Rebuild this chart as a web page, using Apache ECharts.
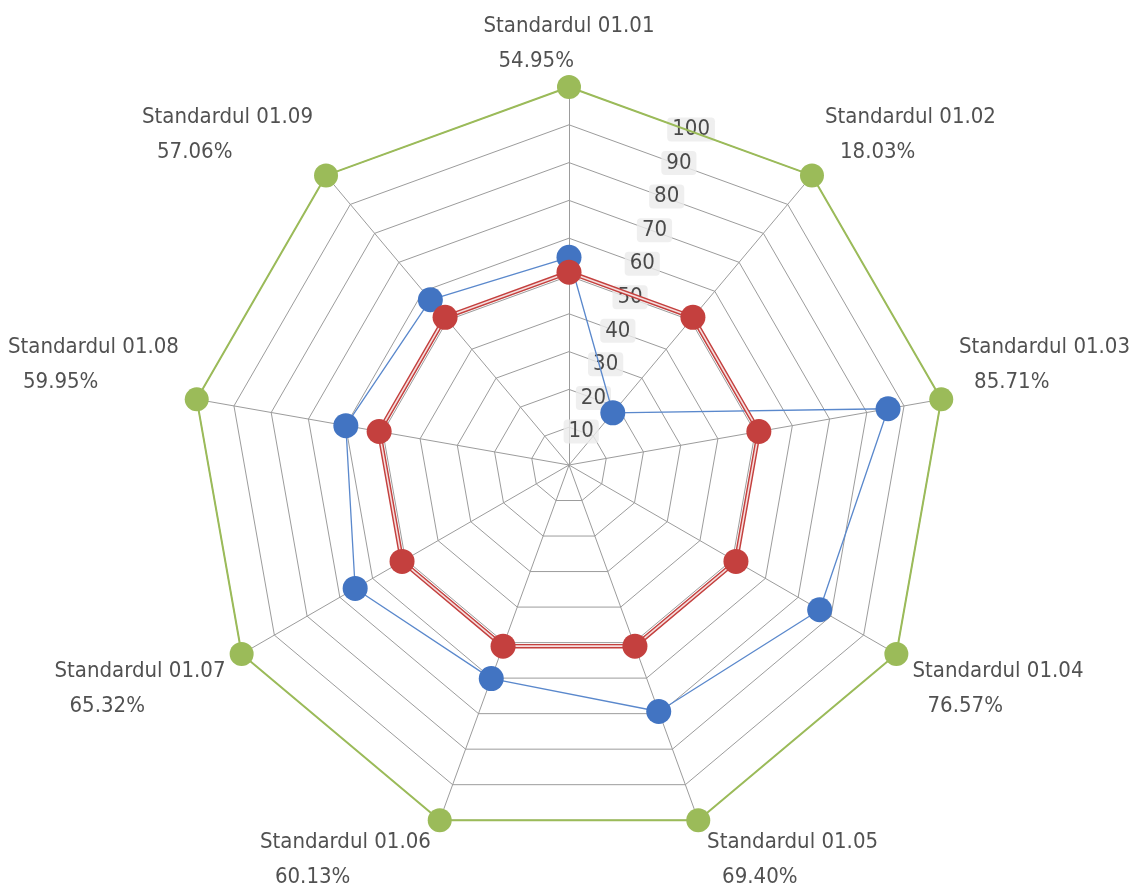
<!DOCTYPE html>
<html>
<head>
<meta charset="utf-8">
<script src="https://cdn.jsdelivr.net/npm/echarts@6/dist/echarts.min.js"></script>
<style>
  html, body { margin: 0; padding: 0; background: #ffffff; }
  #chart { width: 1131px; height: 890px; }
</style>
</head>
<body>
<div id="chart"></div>
<script>
// Standards being scored (clockwise from the top)
const categories = [
  'Standardul 01.01', 'Standardul 01.02', 'Standardul 01.03',
  'Standardul 01.04', 'Standardul 01.05', 'Standardul 01.06',
  'Standardul 01.07', 'Standardul 01.08', 'Standardul 01.09'
];
// Achieved score per standard (%)
const scoreValues = [54.95, 18.03, 85.71, 76.57, 69.40, 60.13, 65.32, 59.95, 57.06];
// Threshold level per standard (%)
const thresholdValues = [51, 51, 51, 51, 51, 51, 51, 51, 51];
// Maximum level per standard (%)
const maximumValues = [100, 100, 100, 100, 100, 100, 100, 100, 100];
// Radial scale tick labels
const tickValues = [10, 20, 30, 40, 50, 60, 70, 80, 90, 100];

const FONT = '"DejaVu Sans Condensed", "Liberation Sans Narrow", sans-serif';
const NAME_SIZE = 22;
const LINE_H = 35;
const INDENT = 15;
const CENTER = [569, 465];
const RADIUS = 378;
const STEP = 360 / categories.length;

const GREEN = '#9bbb59';
const BLUE = '#4274c2';
const BLUE_LINE = '#5a88cc';
const RED = '#c4403e';
const GRID = '#9c9c9c';
const TEXT = '#262626';

// the radar lays indicators out counter-clockwise; reorder so the standards run clockwise
const order = categories.map((_, k) => (categories.length - k) % categories.length);
const byOrder = arr => order.map(i => arr[i]);

// measure the first line of each name label so both lines share the same left edge
const ctx = document.createElement('canvas').getContext('2d');
ctx.font = NAME_SIZE + 'px ' + FONT;

const nameLabelData = categories.map((name, i) => {
  const ang = i * STEP * Math.PI / 180;
  const s = Math.sin(ang), c = Math.cos(ang);
  const w = Math.ceil(ctx.measureText(name).width);
  const gx = 4 + 14 * Math.abs(s);
  let ox;
  if (Math.abs(s) < 0.05) ox = -w / 2;
  else if (s > 0) ox = gx;
  else ox = -gx - w;
  let oy;
  if (c > 0) oy = (2 - 10 * c) - 2 * LINE_H;
  else oy = -6 + 11 * Math.abs(c);
  return {
    value: [maximumValues[i], i * STEP],
    name: name,
    label: {
      offset: [ox, oy],
      formatter: '{a|' + name + '}\n{b|' + scoreValues[i].toFixed(2) + '%}',
      rich: {
        a: { fontFamily: FONT, fontSize: NAME_SIZE, lineHeight: LINE_H, color: TEXT, width: w, align: 'left' },
        b: { fontFamily: FONT, fontSize: NAME_SIZE, lineHeight: LINE_H, color: TEXT, width: w - INDENT, padding: [0, 0, 0, INDENT], align: 'left' }
      }
    }
  };
});

const hiddenAngle = {
  type: 'value', min: 0, max: 360, startAngle: 90, clockwise: true,
  axisLine: { show: false }, axisTick: { show: false }, axisLabel: { show: false }, splitLine: { show: false }
};
const hiddenRadius = {
  type: 'value', min: 0, max: 100,
  axisLine: { show: false }, axisTick: { show: false }, axisLabel: { show: false }, splitLine: { show: false }
};

const chart = echarts.init(document.getElementById('chart'), null, { renderer: 'canvas' });

chart.setOption({
  animation: false,
  backgroundColor: '#ffffff',
  radar: {
    center: CENTER,
    radius: RADIUS,
    startAngle: 90,
    shape: 'polygon',
    splitNumber: 10,
    indicator: byOrder(categories).map(n => ({ name: n, min: 0, max: 100 })),
    axisName: { show: false },
    axisLine: { lineStyle: { color: GRID, width: 1 } },
    axisTick: { show: false },
    axisLabel: { show: false },
    splitLine: { lineStyle: { color: GRID, width: 1 } },
    splitArea: { show: false }
  },
  polar: [
    { center: CENTER, radius: 357 },
    { center: CENTER, radius: RADIUS }
  ],
  angleAxis: [
    Object.assign({ polarIndex: 0 }, hiddenAngle),
    Object.assign({ polarIndex: 1 }, hiddenAngle)
  ],
  radiusAxis: [
    Object.assign({ polarIndex: 0 }, hiddenRadius),
    Object.assign({ polarIndex: 1 }, hiddenRadius)
  ],
  series: [
    {
      // scale tick labels along the bisector of the first sector
      type: 'scatter',
      coordinateSystem: 'polar',
      polarIndex: 0,
      z: 1,
      symbolSize: 1,
      itemStyle: { color: 'rgba(0,0,0,0)' },
      silent: true,
      data: tickValues.map(v => [v, STEP / 2]),
      label: {
        show: true,
        position: 'inside',
        formatter: p => String(p.value[0]),
        fontFamily: FONT,
        fontSize: 22,
        color: '#1f1f1f',
        backgroundColor: '#ebebeb',
        borderRadius: 4,
        padding: [2, 5, 0, 5]
      }
    },
    {
      type: 'radar',
      z: 2,
      symbol: 'circle',
      symbolSize: 24,
      itemStyle: { color: GREEN },
      lineStyle: { color: GREEN, width: 2 },
      data: [{ value: byOrder(maximumValues), name: 'Maxim' }]
    },
    {
      type: 'radar',
      z: 2,
      symbol: 'circle',
      symbolSize: 25,
      itemStyle: { color: BLUE },
      lineStyle: { color: BLUE_LINE, width: 1.3 },
      data: [{ value: byOrder(scoreValues), name: 'Scor' }]
    },
    {
      type: 'radar',
      z: 2,
      symbol: 'none',
      lineStyle: { color: RED, width: 4.5 },
      data: [{ value: byOrder(thresholdValues), name: 'Prag' }]
    },
    {
      type: 'radar',
      z: 2,
      symbol: 'none',
      lineStyle: { color: '#f5dede', width: 1.6 },
      data: [{ value: byOrder(thresholdValues), name: 'Prag interior' }]
    },
    {
      type: 'radar',
      z: 2,
      symbol: 'circle',
      symbolSize: 25,
      itemStyle: { color: RED },
      lineStyle: { opacity: 0 },
      data: [{ value: byOrder(thresholdValues), name: 'Prag puncte' }]
    },
    {
      // standard names with their scores
      type: 'scatter',
      coordinateSystem: 'polar',
      polarIndex: 1,
      z: 3,
      symbolSize: 1,
      itemStyle: { color: 'rgba(0,0,0,0)' },
      silent: true,
      label: {
        show: true,
        position: 'inside',
        align: 'left',
        verticalAlign: 'top'
      },
      data: nameLabelData
    }
  ]
});
</script>
</body>
</html>
